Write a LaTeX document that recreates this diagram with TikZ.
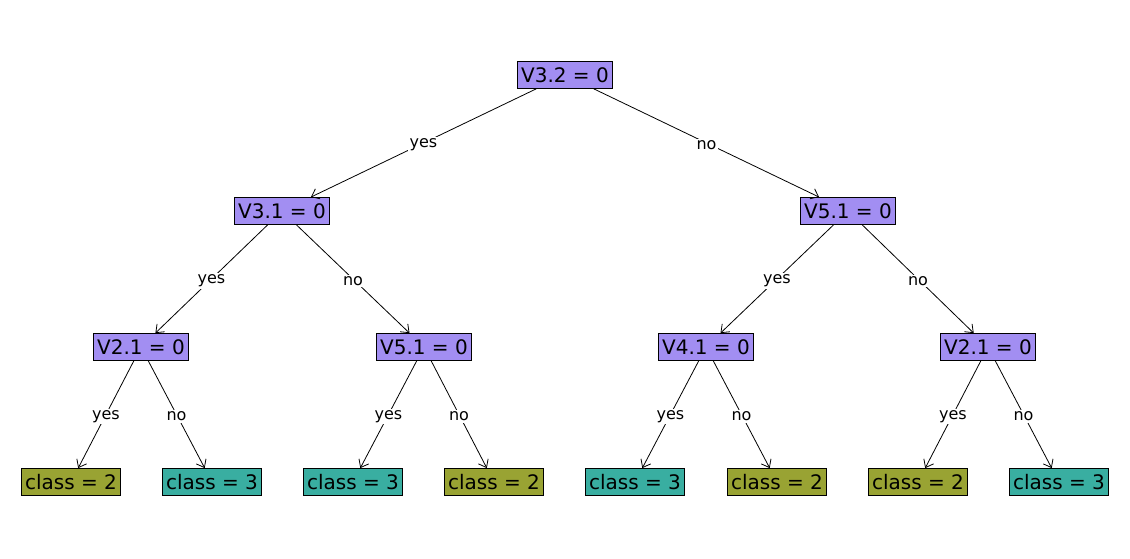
\documentclass[tikz,border=0pt]{standalone}
\usepackage{fontspec}
\setmainfont{DejaVu Sans}
\usepackage{tikz}
\usetikzlibrary{arrows.meta}

\definecolor{splitcol}{RGB}{162,142,242}
\definecolor{classtwo}{RGB}{153,163,51}
\definecolor{classthree}{RGB}{57,174,161}

\tikzset{
    split/.style={draw=black, line width=0.8pt, fill=splitcol, inner sep=0pt, inner xsep=3.5pt,
        minimum height=27pt, font=\fontsize{20}{24}\selectfont},
    leaftwo/.style={split, fill=classtwo},
    leafthree/.style={split, fill=classthree},
    branch/.style={line width=0.8pt, -{Straight Barb[length=7pt,width=11pt]}},
    ans/.style={fill=white, inner sep=1.5pt, yshift=-2pt, font=\fontsize{16}{19}\selectfont}
}

\begin{document}
\begin{tikzpicture}[x=1pt, y=-1pt]
            \useasboundingbox (0,0) rectangle (1130,558);
            % splits
            \node[split] (r) at (565,75) {V3.2 = 0};
            \node[split] (a) at (282,211) {V3.1 = 0};
            \node[split] (b) at (848,211) {V5.1 = 0};
            \node[split] (aa) at (141,347) {V2.1 = 0};
            \node[split] (ab) at (424,347) {V5.1 = 0};
            \node[split] (ba) at (706,347) {V4.1 = 0};
            \node[split] (bb) at (988,347) {V2.1 = 0};
            % leaves
            \node[leaftwo] (l1) at (71,482) {class = 2};
            \node[leafthree] (l2) at (212,482) {class = 3};
            \node[leafthree] (l3) at (353,482) {class = 3};
            \node[leaftwo] (l4) at (494,482) {class = 2};
            \node[leafthree] (l5) at (635,482) {class = 3};
            \node[leaftwo] (l6) at (777,482) {class = 2};
            \node[leaftwo] (l7) at (918,482) {class = 2};
            \node[leafthree] (l8) at (1059,482) {class = 3};
            % branches
            \foreach \p/\y/\n in {r/a/b, a/aa/ab, b/ba/bb, aa/l1/l2, ab/l3/l4, ba/l5/l6, bb/l7/l8} {
                \draw[branch] (\p) -- node[ans] {yes} (\y);
                \draw[branch] (\p) -- node[ans] {no} (\n);
            }
        \end{tikzpicture}
\end{document}
